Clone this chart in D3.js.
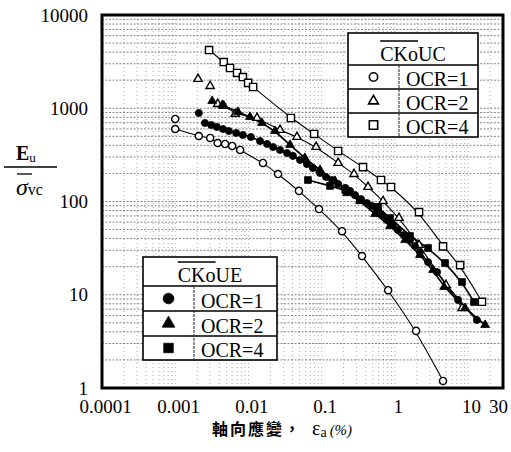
<!DOCTYPE html>
<html>
<head>
<meta charset="utf-8">
<script src="https://cdn.jsdelivr.net/npm/d3@7"></script>
<style>
  body { margin: 0; background: #fff; }
  svg { display: block; }
</style>
</head>
<body>
<svg id="chart" width="511" height="452"></svg>
<script>
// Axial strain (%) and normalised undrained modulus Eu/σ'vc for each test series.
// CKoUC: compression tests (open symbols); CKoUE: extension tests (filled symbols).
const uc1Strain = [0.001, 0.001, 0.0021, 0.003, 0.0038, 0.0048, 0.006, 0.0077, 0.0158, 0.0254, 0.049, 0.092, 0.19, 0.356, 0.81, 1.95, 4.55];
const uc1Ratio  = [767, 599, 504, 480, 424, 414, 394, 357, 259, 197, 130, 83, 48, 26, 11.2, 4.1, 1.19];

const uc2Strain = [0.00205, 0.003, 0.0038, 0.0046, 0.0066, 0.0131, 0.027, 0.046, 0.084, 0.168, 0.277, 0.43, 0.69, 1.14, 2.14, 5.0, 8.3];
const uc2Ratio  = [2060, 1730, 1110, 1060, 870, 786, 585, 492, 384, 259, 197, 143, 101, 66.5, 34.2, 12.7, 7.2];

const uc4Strain = [0.0029, 0.0046, 0.0056, 0.007, 0.0084, 0.0099, 0.0116, 0.038, 0.079, 0.168, 0.367, 0.647, 0.886, 2.14, 4.55, 7.8, 15.5];
const uc4Ratio  = [4210, 3130, 2700, 2390, 2160, 1870, 1690, 786, 530, 348, 234, 170, 143, 77, 33, 20.8, 8.4];

const ue1Strain = [0.0021, 0.00255, 0.0031, 0.0037, 0.0045, 0.0054, 0.0068, 0.0084, 0.0108, 0.0144, 0.018, 0.0217, 0.027, 0.0337, 0.0406, 0.0507, 0.063, 0.076, 0.095, 0.115, 0.139, 0.168, 0.21, 0.244, 0.286, 0.345, 0.417, 0.49, 0.57, 0.67, 0.78, 0.94, 1.1, 1.33, 1.61, 1.88, 2.2, 2.84, 3.77, 7.3, 13.2];
const ue1Ratio  = [889, 695, 661, 630, 599, 570, 543, 517, 492, 445, 414, 384, 357, 331, 308, 279, 252, 229, 202, 183, 170, 154, 140, 130, 117, 106, 96, 89.5, 81, 71.6, 63.3, 56, 49.5, 43.7, 38.6, 33.3, 28.7, 22.4, 17.5, 8.8, 5.36];

const ue2Strain = [0.0032, 0.0044, 0.0072, 0.0105, 0.0153, 0.023, 0.037, 0.059, 0.095, 0.152, 0.222, 0.334, 0.536, 0.86, 1.38, 2.2, 3.32, 4.7, 9.1, 17.1];
const ue2Ratio  = [1196, 1084, 912, 806, 695, 570, 404, 293, 218, 166, 123, 101, 73.4, 54.6, 38.6, 26.7, 18.4, 12.1, 7.2, 4.74];

const ue4Strain = [0.065, 0.13, 0.21, 0.334, 0.59, 0.86, 1.61, 2.84, 4.85, 8.26, 12.06];
const ue4Ratio  = [170, 147, 133, 104, 87.3, 66.5, 42.7, 31.7, 21.9, 13.7, 8.36];

// index of the first point joined by each series' trend curve
const lineFrom = { uc1: 1, uc2: 2, uc4: 0, ue1: 1, ue2: 0, ue4: 0 };

const ocrLabels = ["OCR=1", "OCR=2", "OCR=4"];
const xTicks = [0.0001, 0.001, 0.01, 0.1, 1, 10, 30];
const xTickLabels = ["0.0001", "0.001", "0.01", "0.1", "1", "10", "30"];
const yTicks = [1, 10, 100, 1000, 10000];
const yTickLabels = ["1", "10", "100", "1000", "10000"];

// ---------------------------------------------------------------
const svg = d3.select("#chart");
const plot = { left: 102, right: 503, top: 15, bottom: 388 };
const serif = "'Liberation Serif', 'Times New Roman', serif";

const x = d3.scaleLog().domain([0.0001, 30]).range([plot.left, plot.right]);
const y = d3.scaleLog().domain([1, 10000]).range([plot.bottom, plot.top]);

// log grid: every integer multiple inside each decade
const gx = [], gy = [];
for (let dec = 0.0001; dec <= 10; dec *= 10) {
  for (let k = 1; k <= 9; k++) {
    const v = +(k * dec).toPrecision(3);
    if (v > 0.0001 && v < 30) gx.push(v);
  }
}
for (let dec = 1; dec <= 1000; dec *= 10) {
  for (let k = 1; k <= 9; k++) {
    const v = k * dec;
    if (v > 1 && v < 10000) gy.push(v);
  }
}
const grid = svg.append("g");
grid.selectAll(".gy").data(gy).join("line")
  .attr("x1", plot.left).attr("x2", plot.right)
  .attr("y1", d => y(d)).attr("y2", d => y(d))
  .attr("stroke", "#333").attr("stroke-width", 0.8)
  .attr("stroke-dasharray", "2,1.5").attr("opacity", 0.75);
grid.selectAll(".gx").data(gx).join("line")
  .attr("y1", plot.top).attr("y2", plot.bottom)
  .attr("x1", d => x(d)).attr("x2", d => x(d))
  .attr("stroke", "#555").attr("stroke-width", 0.7)
  .attr("stroke-dasharray", "1,3").attr("opacity", 0.7);

// series definitions
const series = [
  { key: "uc1", xs: uc1Strain, ys: uc1Ratio, sym: d3.symbolCircle, size: 40, filled: false, lw: 1.1 },
  { key: "uc2", xs: uc2Strain, ys: uc2Ratio, sym: d3.symbolTriangle, size: 30, filled: false, lw: 1.1 },
  { key: "uc4", xs: uc4Strain, ys: uc4Ratio, sym: d3.symbolSquare, size: 52, filled: false, lw: 1.1 },
  { key: "ue1", xs: ue1Strain, ys: ue1Ratio, sym: d3.symbolCircle, size: 40, filled: true, lw: 1.6 },
  { key: "ue2", xs: ue2Strain, ys: ue2Ratio, sym: d3.symbolTriangle, size: 34, filled: true, lw: 1.6 },
  { key: "ue4", xs: ue4Strain, ys: ue4Ratio, sym: d3.symbolSquare, size: 46, filled: true, lw: 1.6 }
];

const line = d3.line().x(d => x(d[0])).y(d => y(d[1])).curve(d3.curveBasis);

const curves = svg.append("g");
series.forEach(s => {
  const pts = s.xs.map((v, i) => [v, s.ys[i]]).slice(lineFrom[s.key]);
  curves.append("path").datum(pts)
    .attr("d", line).attr("fill", "none")
    .attr("stroke", "#000").attr("stroke-width", s.lw);
});

const marks = svg.append("g");
series.forEach(s => {
  const pts = s.xs.map((v, i) => [v, s.ys[i]]);
  marks.selectAll(null).data(pts).join("path")
    .attr("transform", d => `translate(${x(d[0])},${y(d[1])})`)
    .attr("d", d3.symbol().type(s.sym).size(s.size))
    .attr("fill", s.filled ? "#000" : "#fff")
    .attr("stroke", "#000").attr("stroke-width", s.filled ? 0.8 : 1.4);
});

// legend tables
function legend(box, title, syms, filled) {
  const g = svg.append("g");
  const rowsY = [box.y0, box.y1, box.y2, box.y3, box.y4];
  g.append("rect").attr("x", box.x0).attr("y", box.y0)
    .attr("width", box.x1 - box.x0).attr("height", box.y4 - box.y0)
    .attr("fill", "#fff").attr("stroke", "#000").attr("stroke-width", 1.6);
  [box.y1, box.y2, box.y3].forEach(yy => g.append("line")
    .attr("x1", box.x0).attr("x2", box.x1).attr("y1", yy).attr("y2", yy)
    .attr("stroke", "#000").attr("stroke-width", 1.4));
  g.append("line").attr("x1", box.xd).attr("x2", box.xd)
    .attr("y1", box.y1).attr("y2", box.y4)
    .attr("stroke", "#222").attr("stroke-width", 1).attr("stroke-dasharray", "3,1");
  const t = g.append("text")
    .attr("x", (box.x0 + box.x1) / 2).attr("y", box.y1 - 4)
    .attr("text-anchor", "middle")
    .attr("font-family", serif).attr("font-size", 20).text(title);
  // overbar across the leading "CKo"
  const node = t.node();
  const start = node.getStartPositionOfChar(0).x;
  const end = node.getEndPositionOfChar(2).x;
  g.append("line").attr("x1", start).attr("x2", end)
    .attr("y1", box.y1 - 24).attr("y2", box.y1 - 24)
    .attr("stroke", "#000").attr("stroke-width", 1.4);
  syms.forEach((sym, i) => {
    const cy = (rowsY[i + 1] + rowsY[i + 2]) / 2;
    g.append("path")
      .attr("transform", `translate(${(box.x0 + box.xd) / 2},${cy})`)
      .attr("d", d3.symbol().type(sym.type).size(sym.size))
      .attr("fill", filled ? "#000" : "#fff")
      .attr("stroke", "#000").attr("stroke-width", filled ? 0.8 : 1.6);
    g.append("text").attr("x", box.xd + 7).attr("y", rowsY[i + 2] - 3)
      .attr("font-family", serif).attr("font-size", 20).text(ocrLabels[i]);
  });
}

legend({ x0: 348, x1: 478, xd: 399, y0: 33, y1: 65, y2: 89, y3: 113, y4: 137 }, "CKoUC",
  [{ type: d3.symbolCircle, size: 55 }, { type: d3.symbolTriangle, size: 42 }, { type: d3.symbolSquare, size: 70 }], false);
legend({ x0: 143, x1: 277, xd: 194, y0: 257, y1: 286, y2: 311, y3: 336, y4: 360 }, "CKoUE",
  [{ type: d3.symbolCircle, size: 90 }, { type: d3.symbolTriangle, size: 70 }, { type: d3.symbolSquare, size: 90 }], true);

// plot frame
svg.append("rect")
  .attr("x", plot.left).attr("y", plot.top)
  .attr("width", plot.right - plot.left).attr("height", plot.bottom - plot.top)
  .attr("fill", "none").attr("stroke", "#000").attr("stroke-width", 3);

// axes (labels only)
const xAxis = svg.append("g").attr("transform", `translate(0,${plot.bottom})`)
  .call(d3.axisBottom(x).tickValues(xTicks)
    .tickFormat((d, i) => xTickLabels[i]).tickSize(0).tickPadding(12));
const yAxis = svg.append("g").attr("transform", `translate(${plot.left},0)`)
  .call(d3.axisLeft(y).tickValues(yTicks)
    .tickFormat((d, i) => yTickLabels[i]).tickSize(0).tickPadding(14));
[xAxis, yAxis].forEach(a => {
  a.select(".domain").remove();
  a.selectAll("text").attr("font-family", serif).attr("font-size", 19).attr("fill", "#000");
});
// nudge labels slightly right, keeping the last one inside the page
xAxis.selectAll("text").attr("dx", (d, i) => i === xTicks.length - 1 ? -5 : 3);

// y-axis title: Eu / σ̄vc
const yt = svg.append("g");
yt.append("text").attr("x", 16).attr("y", 160)
  .attr("font-family", serif).attr("font-size", 20).attr("font-weight", "bold")
  .text("E")
  .append("tspan").attr("font-size", 13).attr("font-weight", "normal").attr("dy", 2).text("u");
yt.append("line").attr("x1", 4).attr("x2", 57).attr("y1", 167).attr("y2", 167)
  .attr("stroke", "#000").attr("stroke-width", 1.3);
yt.append("line").attr("x1", 17).attr("x2", 32).attr("y1", 174).attr("y2", 174)
  .attr("stroke", "#000").attr("stroke-width", 1.3);
yt.append("text").attr("x", 16).attr("y", 195)
  .attr("font-family", serif).attr("font-size", 24).attr("font-style", "italic").text("σ")
  .append("tspan").attr("font-size", 16).attr("font-style", "normal").text("vc");

// x-axis title
const xt = svg.append("g");
xt.append("text").attr("x", 212).attr("y", 435)
  .attr("font-family", "'Noto Sans CJK TC', sans-serif").attr("font-size", 16)
  .attr("font-weight", "bold").attr("letter-spacing", 2).text("軸向應變，");
const eps = xt.append("text").attr("x", 312).attr("y", 435)
  .attr("font-family", serif).attr("font-size", 20).text("ε");
eps.append("tspan").attr("font-size", 14).attr("dy", 2).text("a");
eps.append("tspan").attr("font-size", 15).attr("font-style", "italic").attr("dy", -2).attr("dx", 3).text("(%)");
</script>
</body>
</html>
